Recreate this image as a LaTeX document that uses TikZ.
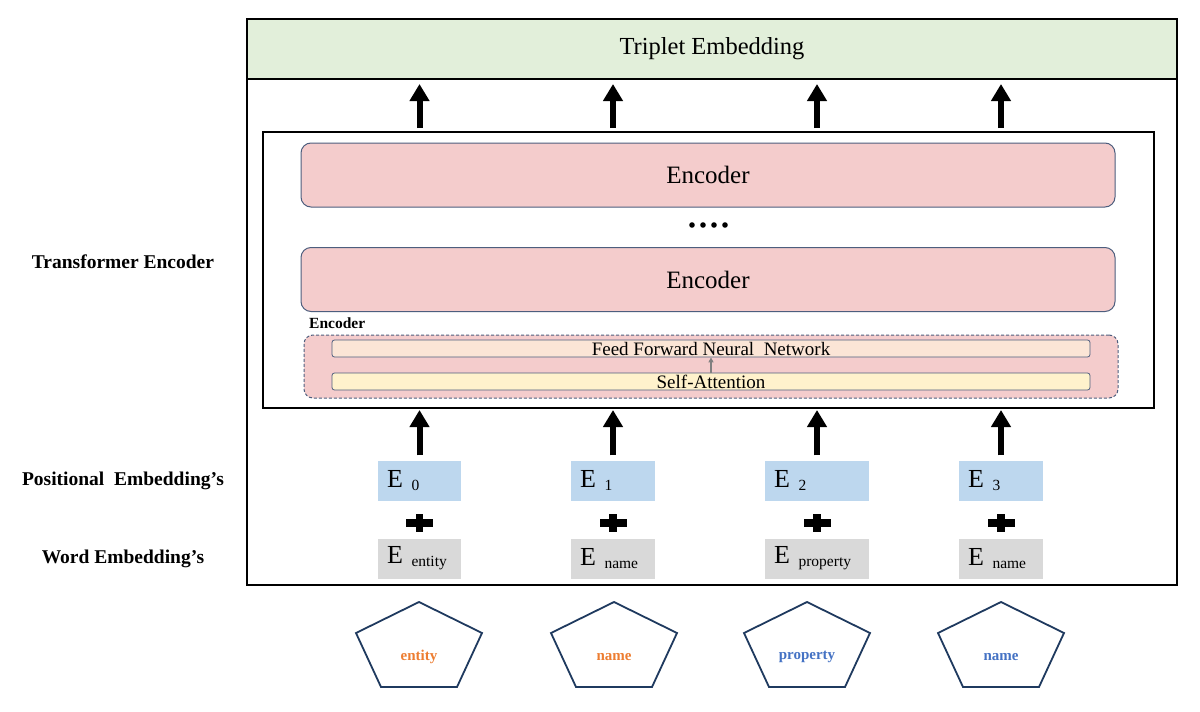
\documentclass[tikz,border=0pt]{standalone}
\usepackage{fontspec}
\setmainfont{Liberation Serif}
\usetikzlibrary{arrows.meta}
\definecolor{tgreen}{HTML}{E2EFDA}
\definecolor{encpink}{HTML}{F4CCCC}
\definecolor{slate}{HTML}{4D5E7E}
\definecolor{ffnnfill}{HTML}{FBE5D6}
\definecolor{safill}{HTML}{FFF2CC}
\definecolor{posblue}{HTML}{BDD7EE}
\definecolor{wordgray}{HTML}{D9D9D9}
\definecolor{pentnavy}{HTML}{1F3A5F}
\definecolor{torange}{HTML}{ED7D31}
\definecolor{tblue}{HTML}{4472C4}
\newcommand{\Esub}[1]{E\ \raisebox{-3pt}{\fontsize{15.5}{15.5}\selectfont #1}}
\begin{document}
\begin{tikzpicture}[x=1pt,y=-1pt,
  frame/.style={draw=black, line width=2pt, inner sep=0pt},
  encbox/.style={draw=slate, line width=1pt, fill=encpink, rounded corners=10pt, minimum width=814pt, minimum height=64pt, inner sep=0pt, font=\fontsize{25}{26}\selectfont},
  barbox/.style={draw=slate, line width=0.8pt, rounded corners=2.5pt, minimum width=758pt, minimum height=17pt, inner sep=0pt, font=\fontsize{19}{19}\selectfont},
  ebox/.style={minimum height=40pt, inner xsep=9pt, inner ysep=0pt, align=left, font=\fontsize{26}{26}\selectfont},
  bigarrow/.style={line width=6pt, -{Triangle[length=17pt,width=19pt]}},
  sidelabel/.style={font=\bfseries\fontsize{19.5}{20}\selectfont},
  penttext/.style={font=\bfseries\fontsize{15}{15}\selectfont},
  pent/.style={draw=pentnavy, line width=1.8pt, line join=miter}
]
\useasboundingbox (0,0) rectangle (1200,712);
\fill[white] (0,0) rectangle (1200,712);

% outer frame and title
\node[frame, minimum width=930pt, minimum height=566pt, anchor=north west] (outer) at (246,18) {};
\node[frame, fill=tgreen, minimum width=930pt, minimum height=60pt, anchor=north west, font=\fontsize{24.5}{26}\selectfont] (title) at (246,18) {Triplet Embedding};

% inner transformer box
\node[frame, minimum width=891pt, minimum height=276pt, anchor=north west] (inner) at (262,131) {};

\node[encbox] (enctop) at (708,175) {Encoder};
\node[encbox] (encbot) at (708,279.5) {Encoder};
\node (dots) at (708,225) {};
\foreach \dx in {692,703,714,725} \fill[black] (\dx,225) circle (2.8pt);

\node[anchor=west, font=\bfseries\fontsize{15.5}{16}\selectfont, inner sep=0pt] (enclabel) at (309,323) {Encoder};
\node[draw=slate, line width=1pt, dash pattern=on 3pt off 2pt, fill=encpink, rounded corners=9pt, minimum width=814pt, minimum height=63pt, inner sep=0pt] (encblk) at (711,366.5) {};
\node[barbox, fill=ffnnfill] (ffnn) at (711,348.5) {Feed Forward Neural\ \ Network};
\node[barbox, fill=safill] (sa) at (711,381.5) {Self-Attention};
\draw[gray, line width=1.5pt, -{Triangle[length=5pt,width=5pt]}] (sa.north) -- (ffnn.south);

% columns
\node[ebox, fill=posblue, text width=65pt] (p0) at (419.5,480.5) {\Esub{0}};
\node[ebox, fill=posblue, text width=66pt] (p1) at (613,480.5) {\Esub{1}};
\node[ebox, fill=posblue, text width=86pt] (p2) at (817,480.5) {\Esub{2}};
\node[ebox, fill=posblue, text width=66pt] (p3) at (1001,480.5) {\Esub{3}};

\node[ebox, fill=wordgray, text width=65pt] (w0) at (419.5,558.5) {\Esub{entity}};
\node[ebox, fill=wordgray, text width=66pt] (w1) at (613,558.5) {\Esub{name}};
\node[ebox, fill=wordgray, text width=86pt] (w2) at (817,558.5) {\Esub{property}};
\node[ebox, fill=wordgray, text width=66pt] (w3) at (1001,558.5) {\Esub{name}};

\foreach \n in {p0,p1,p2,p3} {
  \draw[bigarrow, shorten <=5pt, shorten >=1pt] (\n.north) -- (\n.north |- inner.south);
  \draw[bigarrow, shorten <=3pt, shorten >=4pt] (\n |- inner.north) -- (\n |- title.south);
}

% plus signs
\foreach \cx in {419.5,613,817,1001} {
  \fill[black] (\cx-13.5,519) rectangle (\cx+13.5,526.5);
  \fill[black] (\cx-3.7,514) rectangle (\cx+3.7,531.5);
}

% pentagons
\foreach \cx/\nm/\txt/\col in {419/t0/entity/torange, 614/t1/name/torange, 807/t2/property/tblue, 1001/t3/name/tblue} {
  \draw[pent] (\cx,602) -- (\cx+63,633) -- (\cx+38,687) -- (\cx-38,687) -- (\cx-63,633) -- cycle;
  \node[penttext, text=\col] (\nm) at (\cx,657) {\txt};
}

% side labels
\node[sidelabel] (lte) at (123,262) {Transformer Encoder};
\node[sidelabel] (lpe) at (123,481) {Positional\ \ Embedding’s};
\node[sidelabel] (lwe) at (123,559) {Word Embedding’s};
\end{tikzpicture}
\end{document}
